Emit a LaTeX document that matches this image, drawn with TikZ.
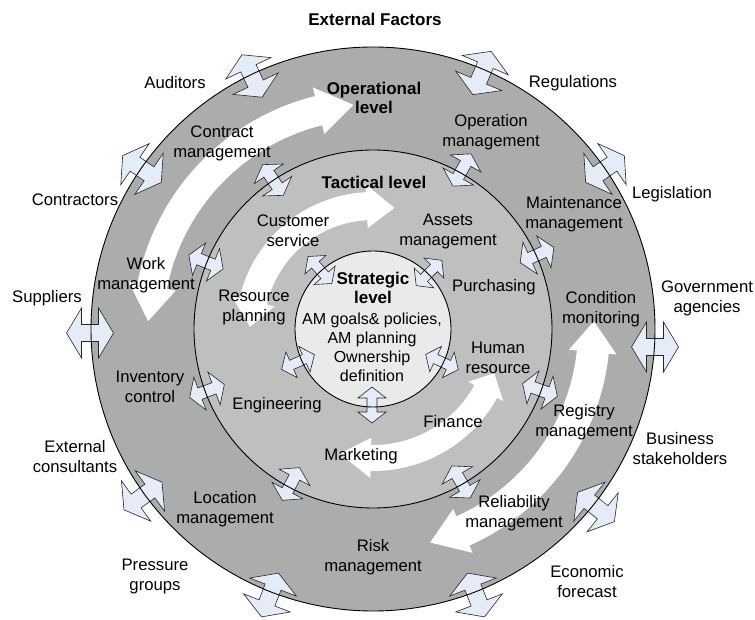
\documentclass[tikz,border=0pt]{standalone}
\usepackage{fontspec}
\setmainfont{Liberation Sans}
\definecolor{outerg}{RGB}{172,172,172}
\definecolor{midg}{RGB}{191,191,191}
\definecolor{inng}{RGB}{234,234,234}
\definecolor{arrfill}{RGB}{229,236,247}
\newcommand{\wharc}[7]{%
 \pgfmathsetmacro\wRa{#1+#4}\pgfmathsetmacro\wRb{#1-#4}%
 \pgfmathsetmacro\wHa{#1+#5}\pgfmathsetmacro\wHb{#1-#5}%
 \pgfmathsetmacro\wBa{#2-#6}\pgfmathsetmacro\wBb{#3+#7}%
 \fill[white] (#2:#1) -- (\wBa:\wHa) -- (\wBa:\wRa) arc[start angle=\wBa, end angle=\wBb, radius=\wRa] -- (\wBb:\wHa) -- (#3:#1) -- (\wBb:\wHb) -- (\wBb:\wRb) arc[start angle=\wBb, end angle=\wBa, radius=\wRb] -- (\wBa:\wHb) -- cycle;}
\tikzset{pics/dbl/.style args={#1/#2/#3/#4}{code={%
 \draw[arr] (-#1,0) -- ({-#1+#2},#3) -- ({-#1+#2},#4) -- ({#1-#2},#4) -- ({#1-#2},#3) -- (#1,0) -- ({#1-#2},-#3) -- ({#1-#2},-#4) -- ({-#1+#2},-#4) -- ({-#1+#2},-#3) -- cycle;}}}
\newcommand{\oarr}[3]{\pic[rotate=#3] at (#1,#2) {dbl=23.5/15/25/8.5};}
\newcommand{\marr}[3]{\pic[rotate=#3] at (#1,#2) {dbl=18.5/11/17.5/6};}
\newcommand{\iarr}[3]{\pic[rotate=#3] at (#1,#2) {dbl=18/11/14/5};}
\begin{document}
\begin{tikzpicture}[x=1pt,y=1pt,
  lbl/.style={font=\fontsize{16.7}{20}\selectfont, align=center, inner sep=0pt},
  blbl/.style={font=\fontsize{17}{19}\selectfont\bfseries, align=center, inner sep=0pt},
  arr/.style={draw=black!85, line width=0.6pt, fill=arrfill, line join=miter},
  ring/.style={draw=black, line width=0.9pt}]
\useasboundingbox (0,0) rectangle (755,619);
\coordinate (C) at (373,290);
\fill[outerg] (C) circle[radius=282];
\fill[midg] (C) circle[radius=179];
\fill[inng] (C) circle[radius=78];
% white circular arrows
\begin{scope}[shift={(373,290)}]
\wharc{225}{178}{95}{15}{24}{9}{9}
\wharc{123}{179}{80}{14}{22}{12}{13}
\wharc{129}{-20}{-105}{13}{20}{9}{14}
\wharc{221}{2}{-75}{16}{24}{8}{9}
\end{scope}
% outer arrows
\oarr{252}{543}{115.4}
\oarr{482}{546}{67.1}
\oarr{142}{450}{145.3}
\oarr{605}{450}{34.6}
\oarr{90}{286}{0}
\oarr{655}{272}{0}
\oarr{143}{123}{216}
\oarr{596}{112}{-38.6}
\oarr{270}{24}{248.8}
\oarr{476}{24}{291.2}
% middle arrows
\marr{273}{439}{123.9}
\marr{462}{449}{60.8}
\marr{206}{357}{158}
\marr{537}{364}{24.3}
\marr{207}{228}{200.5}
\marr{540}{229}{-20}
\marr{291}{135}{242}
\marr{461}{137}{300}
% inner arrows
\iarr{320}{349}{131.4}
\iarr{429}{346}{44.5}
\iarr{298}{257}{204}
\iarr{442}{257}{-25}
\iarr{372}{214}{270}
% ring outlines
\draw[ring] (C) circle[radius=282];
\draw[ring] (C) circle[radius=179];
\draw[ring] (C) circle[radius=78];
% labels
\node[blbl] (ext) at (375,600) {External Factors};
\node[blbl] (oplev) at (374,521) {Operational\\level};
\node[blbl] (taclev) at (374,437) {Tactical level};
\node[blbl] (strlev) at (373,331) {Strategic\\level};
\node[lbl,font=\fontsize{16}{19}\selectfont] (amg) at (372,272) {AM goals\& policies,\\AM planning\\Ownership\\definition};
\node[lbl] (aud) at (175,536) {Auditors};
\node[lbl] (reg) at (573,536) {Regulations};
\node[lbl] (conm) at (222,476) {Contract\\management};
\node[lbl] (opm) at (491,487) {Operation\\management};
\node[lbl] (contr) at (75,419) {Contractors};
\node[lbl] (legis) at (672,425) {Legislation};
\node[lbl] (cust) at (293,388) {Customer\\service};
\node[lbl] (assm) at (448,388) {Assets\\management};
\node[lbl] (maint) at (574,405) {Maintenance\\management};
\node[lbl] (work) at (146,344) {Work\\management};
\node[lbl] (supp) at (47,321) {Suppliers};
\node[lbl] (resp) at (254,312) {Resource\\planning};
\node[lbl] (purch) at (494,332) {Purchasing};
\node[lbl] (cond) at (601,310) {Condition\\monitoring};
\node[lbl] (gov) at (707,321) {Government\\agencies};
\node[lbl] (hum) at (498,261) {Human\\resource};
\node[lbl] (inv) at (150,232) {Inventory\\control};
\node[lbl] (eng) at (277,214) {Engineering};
\node[lbl] (fin) at (453,197) {Finance};
\node[lbl] (regm) at (584,197) {Registry\\management};
\node[lbl] (extc) at (75,162) {External\\consultants};
\node[lbl] (mark) at (361,163) {Marketing};
\node[lbl] (bus) at (680,170) {Business\\stakeholders};
\node[lbl] (loc) at (225,110) {Location\\management};
\node[lbl] (rel) at (514,106) {Reliability\\management};
\node[lbl] (risk) at (373,62) {Risk\\management};
\node[lbl] (press) at (155,43) {Pressure\\groups};
\node[lbl] (econ) at (587,37) {Economic\\forecast};
\end{tikzpicture}
\end{document}
